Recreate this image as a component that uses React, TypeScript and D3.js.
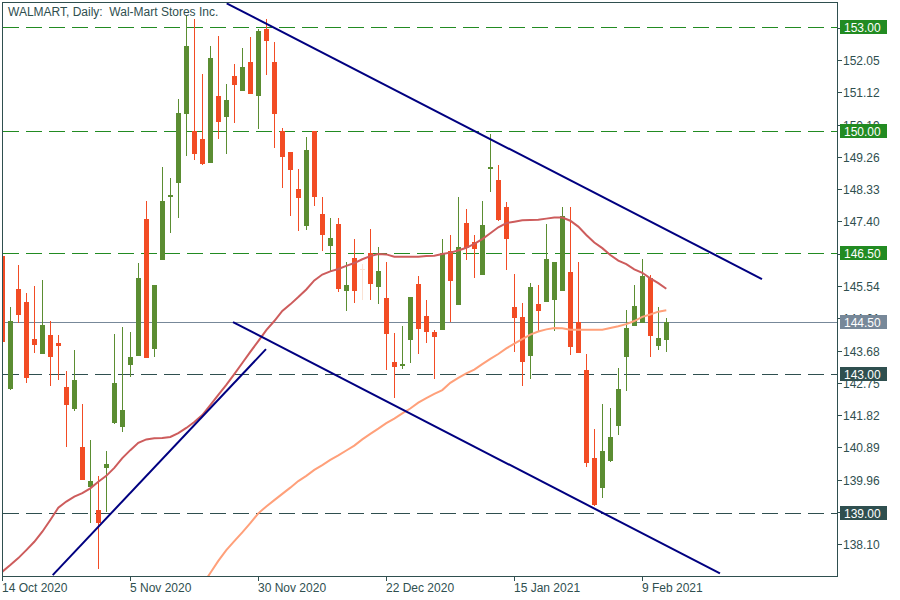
import React from 'react';
import * as d3 from 'd3';

// ---------- data ----------
const opens = [146.40,142.58,145.45,145.08,144.01,143.59,144.13,143.90,142.64,142.00,140.90,139.74,139.09,140.31,141.58,141.49,143.27,143.53,147.47,143.73,146.30,148.11,148.51,150.50,150.00,149.77,149.09,151.01,150.42,151.59,151.17,151.99,151.02,152.94,151.99,150.00,149.40,148.33,147.28,150.00,147.61,146.70,147.33,145.40,146.35,146.04,146.50,145.52,145.19,143.35,143.24,143.99,145.60,144.68,144.21,144.27,146.55,145.00,147.35,146.80,145.86,148.92,148.59,147.81,144.93,144.65,143.53,145.03,145.09,145.14,145.40,145.94,144.50,143.12,140.59,139.73,140.51,141.51,143.50,144.40,144.48,145.78,143.82,143.99];
const highs = [146.45,144.93,146.15,145.34,145.54,145.71,144.53,144.13,143.09,143.70,142.14,141.10,140.07,140.79,144.16,144.35,144.21,146.19,147.99,145.58,148.97,148.65,150.93,153.35,153.23,151.65,152.45,152.75,151.36,151.93,152.40,152.71,152.93,153.23,152.57,150.09,149.40,148.92,149.84,150.00,148.11,147.50,147.50,146.23,146.89,146.16,147.18,146.66,146.23,144.19,144.39,145.22,145.83,145.14,144.27,146.88,147.01,148.10,147.76,147.01,147.99,149.92,149.02,147.96,145.88,145.05,145.63,145.57,147.33,146.24,147.82,147.82,146.23,143.58,141.42,142.14,142.02,143.18,144.85,145.57,146.32,145.86,144.93,144.62];
const lows = [143.90,142.55,144.48,142.75,143.62,143.58,142.67,142.83,140.91,141.94,139.95,138.70,137.38,139.04,141.57,141.34,142.93,143.52,143.46,143.50,146.29,147.07,147.51,149.28,149.18,149.03,149.08,149.78,149.35,150.24,151.16,151.07,150.07,151.63,149.52,148.37,147.56,147.13,147.16,147.85,146.56,145.95,145.38,144.83,145.06,145.14,145.14,145.03,143.13,142.32,143.16,143.33,143.59,143.91,142.85,144.26,144.49,145.00,146.28,145.78,145.85,148.26,147.41,146.01,143.65,142.67,142.87,144.22,145.08,144.24,145.39,143.56,143.61,140.33,139.21,139.44,140.48,141.26,142.52,144.39,144.47,143.50,143.70,143.65];
const closes = [143.93,144.53,144.71,142.90,143.85,144.42,143.50,143.82,142.12,142.83,139.96,139.92,138.72,140.41,142.75,141.97,143.49,145.77,143.47,145.57,147.99,148.16,150.52,152.45,149.35,149.06,152.11,150.27,150.90,151.34,151.85,151.08,152.88,152.61,150.50,149.26,148.89,148.08,149.46,148.11,147.01,146.92,145.46,145.57,145.40,146.04,145.61,145.97,144.16,143.21,143.29,145.22,144.31,144.22,144.08,146.50,145.69,146.66,146.62,146.61,147.30,148.96,147.44,146.90,144.63,143.36,145.51,144.82,146.33,146.23,147.56,143.79,143.62,140.45,139.22,140.79,141.19,142.57,144.33,144.96,145.83,144.11,144.04,144.50];

// fast moving average (red) per bar
const maFast = [137.31,137.50,137.70,137.93,138.17,138.46,138.80,139.15,139.33,139.47,139.57,139.71,139.90,140.07,140.30,140.58,140.81,141.02,141.12,141.15,141.16,141.19,141.30,141.45,141.62,141.82,142.11,142.40,142.69,143.00,143.32,143.64,143.95,144.27,144.53,144.82,145.01,145.22,145.44,145.70,145.87,145.96,146.03,146.12,146.20,146.31,146.40,146.46,146.45,146.38,146.38,146.38,146.38,146.40,146.41,146.46,146.50,146.56,146.64,146.75,146.89,147.06,147.23,147.35,147.39,147.43,147.44,147.45,147.48,147.51,147.51,147.42,147.25,147.01,146.79,146.63,146.43,146.27,146.17,146.02,145.92,145.76,145.62,145.46];
// slow moving average (salmon), starting at bar 25
const maSlowStart = 25;
const maSlow = [136.93,137.27,137.62,137.93,138.19,138.44,138.71,138.99,139.19,139.37,139.55,139.73,139.92,140.07,140.24,140.38,140.53,140.66,140.80,140.94,141.12,141.28,141.43,141.59,141.72,141.87,142.01,142.18,142.31,142.43,142.54,142.75,142.89,143.02,143.13,143.29,143.44,143.58,143.74,143.88,144.01,144.14,144.23,144.29,144.33,144.32,144.28,144.28,144.28,144.28,144.28,144.33,144.38,144.44,144.53,144.65,144.72,144.80,144.84];

// trend lines: [bar index, price] pairs
const trendUpper = [[28.05, 153.68], [94.96, 145.74]];
const trendLower = [[28.84, 144.50], [89.71, 137.26]];
const trendUp = [[6.3, 137.21], [32.96, 143.72]];

// horizontal levels
const levels = [153.0, 150.0, 146.5, 143.0, 139.0];

// axis ticks
const priceTicks = [138.10,139.03,139.96,140.89,141.82,142.75,143.68,144.61,145.54,146.47,147.40,148.33,149.26,150.19,151.12,152.05,152.98];
const dateTickBars = [0, 16, 32, 48, 64, 80];
const dateTickLabels = ['14 Oct 2020', '5 Nov 2020', '30 Nov 2020', '22 Dec 2020', '15 Jan 2021', '9 Feb 2021'];

const title = 'WALMART, Daily:  Wal-Mart Stores Inc.';

// ---------- styles ----------
const AXIS = '#2F4F4F';
const BULL = '#5B8D32';
const BEAR = '#F24C24';
const DOJI = '#FBE2D4';
const GREEN_LVL = '#228B22';
const DARK_LVL = '#2F4F4F';
const BID = '#778899';
const FONT = '"Liberation Sans", Arial, sans-serif';

export default function App() {
  const L = 2, T = 2, R = 837, B = 576;
  const x = d3.scaleLinear().domain([0, 100]).range([2.3, 802.3]);
  const y = d3.scaleLinear().domain([139, 153]).range([513, 27]);
  const last = closes[closes.length - 1];

  const fastLine = d3.line<number>().x((_, i) => x(i)).y(d => y(d))(maFast) || '';
  const slowLine = d3.line<number>().x((_, i) => x(i + maSlowStart)).y(d => y(d))(maSlow) || '';
  const tl = (pts: number[][]) => d3.line<number[]>().x(d => x(d[0])).y(d => y(d[1]))(pts) || '';

  const crisp = (v: number) => Math.round(v) + 0.5;

  return (
    <svg width={900} height={600} style={{ position: 'absolute', left: 0, top: 0, background: '#fff' }}
      fontFamily={FONT}>
      <defs>
        <clipPath id="plot"><rect x={L + 1} y={T + 1} width={R - L - 1} height={B - T - 1} /></clipPath>
      </defs>
      <rect x={0} y={0} width={900} height={600} fill="#fff" />
      <g clipPath="url(#plot)">
        {/* bid line */}
        <line x1={L} x2={R} y1={crisp(y(last))} y2={crisp(y(last))} stroke={BID} strokeWidth={1} />
        {/* levels */}
        {levels.map((v, k) => (
          <line key={k} x1={3} x2={R} y1={crisp(y(v))} y2={crisp(y(v))}
            stroke={v > last ? GREEN_LVL : DARK_LVL} strokeWidth={1} strokeDasharray="16 7" />
        ))}
        {/* candles */}
        {opens.map((o, i) => {
          const c = closes[i];
          const cx = Math.round(x(i));
          const col = c > o ? BULL : c < o ? BEAR : DOJI;
          const top = Math.round(y(Math.max(o, c)));
          const bot = Math.round(y(Math.min(o, c)));
          return (
            <g key={i}>
              <line x1={cx + 0.5} x2={cx + 0.5} y1={Math.round(y(highs[i]))} y2={Math.round(y(lows[i]))} stroke={col} strokeWidth={1} />
              <rect x={cx - 2} y={top} width={5} height={Math.max(1, bot - top)} fill={col} />
            </g>
          );
        })}
        {/* moving averages */}
        <path d={slowLine} fill="none" stroke="#FFA07A" strokeWidth={2} />
        <path d={fastLine} fill="none" stroke="#CD5C5C" strokeWidth={2} />
        {/* trend lines */}
        <path d={tl(trendUpper)} fill="none" stroke="#000080" strokeWidth={2} />
        <path d={tl(trendLower)} fill="none" stroke="#000080" strokeWidth={2} />
        <path d={tl(trendUp)} fill="none" stroke="#000080" strokeWidth={2} />
      </g>

      {/* frame */}
      <line x1={L + 0.5} x2={L + 0.5} y1={T} y2={B + 1} stroke={AXIS} />
      <line x1={L} x2={R + 1} y1={T + 0.5} y2={T + 0.5} stroke={AXIS} />
      <line x1={R + 0.5} x2={R + 0.5} y1={T} y2={B + 1} stroke={AXIS} />
      <line x1={L} x2={R + 1} y1={B + 0.5} y2={B + 0.5} stroke={AXIS} />

      {/* title */}
      <text x={8} y={16} fontSize={12} fill={AXIS} style={{ whiteSpace: 'pre' }}>{title}</text>

      {/* price axis */}
      {priceTicks.map((v, k) => {
        const ty = crisp(y(v));
        return (
          <g key={k}>
            <line x1={R} x2={R + 5} y1={ty} y2={ty} stroke={AXIS} />
            <text x={843} y={ty + 4} fontSize={12} fill={AXIS}>{v.toFixed(2)}</text>
          </g>
        );
      })}

      {/* level labels */}
      {[...levels, last].map((v, k) => {
        const ty = Math.round(y(v));
        const bg = k === levels.length ? BID : v > last ? GREEN_LVL : DARK_LVL;
        return (
          <g key={k}>
            <rect x={840} y={ty - 7} width={47} height={14} fill={bg} />
            <text x={844} y={ty + 4.5} fontSize={12} fill="#fff">{v.toFixed(2)}</text>
          </g>
        );
      })}

      {/* date axis */}
      {dateTickBars.map((b, k) => {
        const tx = Math.round(x(b)) + 0.5;
        return (
          <g key={k}>
            <line x1={tx} x2={tx} y1={B} y2={B + 5} stroke={AXIS} />
            <text x={tx - 0.5} y={592} fontSize={12} fill={AXIS}>{dateTickLabels[k]}</text>
          </g>
        );
      })}
    </svg>
  );
}
